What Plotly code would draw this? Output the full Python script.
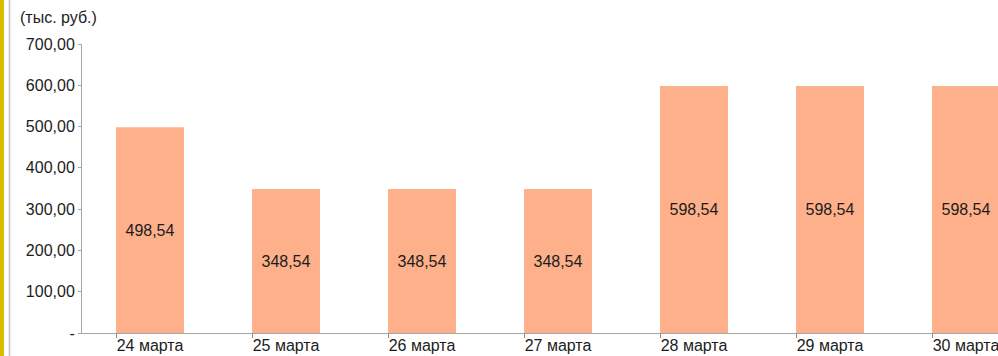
import plotly.graph_objects as go

# Daily amounts, thousand roubles
days = ["24 марта", "25 марта", "26 марта", "27 марта", "28 марта", "29 марта", "30 марта"]
amounts = [498.54, 348.54, 348.54, 348.54, 598.54, 598.54, 598.54]

# Value axis ticks
y_ticks = [0, 100, 200, 300, 400, 500, 600, 700]
y_tick_text = ["-", "100,00", "200,00", "300,00", "400,00", "500,00", "600,00", "700,00"]

unit_label = "(тыс. руб.)"

W, H = 998, 356
L, R, T, B = 82, 0, 44, 23
BAR_W = 0.5
PX_PER_CAT = 136
x_range = [-0.5, -0.5 + (W - L - R) / PX_PER_CAT]

FONT = dict(family="Liberation Sans, Arial, sans-serif", size=16, color="#1c1c1c")
AXIS_GREY = "#a6a6a6"
BAR_COLOR = "#fdb08a"

positions = list(range(len(days)))

fig = go.Figure()
fig.add_trace(go.Bar(
    x=positions,
    y=amounts,
    width=BAR_W,
    marker=dict(color=BAR_COLOR, line=dict(width=0)),
    texttemplate="%{y:.2f}",
    textposition="inside",
    insidetextanchor="middle",
    textangle=0,
    textfont=FONT,
    hoverinfo="skip",
))
# invisible companion trace so the overlay axis (tick marks at bar edges) is drawn
fig.add_trace(go.Scatter(
    x=positions, y=amounts, xaxis="x2", mode="markers",
    marker=dict(opacity=0), hoverinfo="skip", showlegend=False,
))

fig.update_layout(
    width=W, height=H,
    margin=dict(l=L, r=R, t=T, b=B, pad=0),
    paper_bgcolor="white",
    plot_bgcolor="white",
    separators=", ",
    showlegend=False,
    font=FONT,
    xaxis=dict(
        range=x_range,
        tickmode="array",
        tickvals=positions,
        ticktext=days,
        ticks="",
        ticklabelstandoff=-2,
        ticklabeloverflow="allow",
        showline=True,
        linecolor=AXIS_GREY,
        linewidth=1,
        showgrid=False,
        zeroline=False,
        tickfont=FONT,
        fixedrange=True,
    ),
    xaxis2=dict(
        overlaying="x",
        anchor="y",
        range=x_range,
        tickmode="array",
        tickvals=[p - BAR_W / 2 for p in positions],
        ticks="outside",
        ticklen=4,
        tickwidth=1,
        tickcolor="#8c8c8c",
        showticklabels=False,
        showline=False,
        showgrid=False,
        zeroline=False,
        side="bottom",
        fixedrange=True,
    ),
    yaxis=dict(
        range=[0, 700],
        tickmode="array",
        tickvals=y_ticks,
        ticktext=y_tick_text,
        ticks="outside",
        ticklen=3,
        tickcolor=AXIS_GREY,
        ticklabelstandoff=0,
        showline=True,
        linecolor=AXIS_GREY,
        linewidth=1,
        showgrid=False,
        zeroline=False,
        tickfont=FONT,
        fixedrange=True,
    ),
)

# unit caption above the value axis
fig.add_annotation(
    text=unit_label, xref="paper", yref="paper",
    x=(18 - L) / (W - L - R), y=1 + (T - 18) / (H - T - B),
    xanchor="left", yanchor="middle", showarrow=False, font=FONT,
)

# window frame on the left edge: yellow stripe and a thin grey rule
pw = W - L - R
fig.add_shape(type="rect", xref="paper", yref="paper",
              x0=-L / pw, x1=(4 - L) / pw, y0=-B / (H - T - B), y1=1 + T / (H - T - B),
              fillcolor="#d9bd00", line=dict(width=0), layer="above")
fig.add_shape(type="line", xref="paper", yref="paper",
              x0=(9.5 - L) / pw, x1=(9.5 - L) / pw, y0=-B / (H - T - B), y1=1 + T / (H - T - B),
              line=dict(color="#c4c4c4", width=1.5), layer="above")

fig.write_html("out.html")
